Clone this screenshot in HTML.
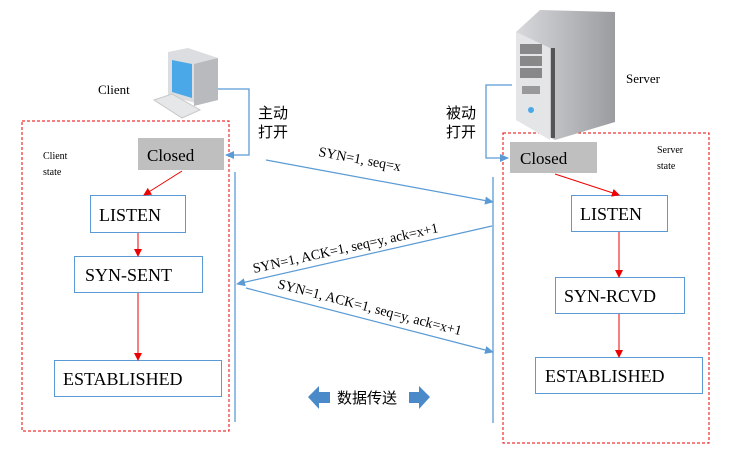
<!DOCTYPE html>
<html><head><meta charset="utf-8"><style>
body{margin:0;background:#fff;width:751px;height:459px;overflow:hidden}
text{font-family:"Liberation Serif","Noto Serif CJK SC",serif}
.cj{font-family:"Liberation Sans","Noto Sans CJK SC",sans-serif}
</style></head><body>
<svg width="751" height="459" xmlns="http://www.w3.org/2000/svg">
<defs>
<marker id="r" markerWidth="8" markerHeight="8" refX="7" refY="4" orient="auto" markerUnits="userSpaceOnUse"><path d="M0,0L8,4L0,8z" fill="#e00"/></marker>
<marker id="b" markerWidth="9" markerHeight="8" refX="8" refY="4" orient="auto" markerUnits="userSpaceOnUse"><path d="M0,0L9,4L0,8z" fill="#5b9bd5"/></marker>
<linearGradient id="sg" x1="0" x2="1"><stop offset="0" stop-color="#d8d9dc"/><stop offset="1" stop-color="#9a9ca0"/></linearGradient>
</defs>
<rect x="22" y="121" width="207" height="310" fill="none" stroke="#e00" stroke-dasharray="3,2"/>
<rect x="503" y="133" width="206" height="310" fill="none" stroke="#e00" stroke-dasharray="3,2"/>
<line x1="235" y1="172" x2="235" y2="422" stroke="#5b9bd5" stroke-width="1.3"/>
<line x1="493" y1="177" x2="493" y2="423" stroke="#5b9bd5" stroke-width="1.3"/>
<!-- computer icon -->
<path d="M168,52 L188,48 L218,58 L218,100 L200,104 L168,96z" fill="#dcdde0"/>
<path d="M172,60 L192,64 L192,98 L172,92z" fill="#4aa8e8"/>
<path d="M194,64 L218,58 L218,100 L194,106z" fill="#b8babe"/>
<path d="M154,100 L172,94 L200,110 L182,118z" fill="#e6e7e9" stroke="#c8c8c8"/>
<!-- server icon -->
<path d="M516,32 L540,10 L615,12 L615,122 L555,140 L516,120z" fill="url(#sg)"/>
<path d="M516,32 L550,48 L550,140 L516,120z" fill="#e4e5e7"/>
<rect x="520" y="44" width="22" height="10" fill="#888"/><rect x="520" y="56" width="22" height="10" fill="#888"/><rect x="520" y="68" width="22" height="10" fill="#888"/>
<rect x="522" y="86" width="18" height="8" fill="#999"/>
<circle cx="531" cy="110" r="3" fill="#4aa8e8"/>
<rect x="551" y="48" width="4" height="90" fill="#555"/>
<polyline points="218,89 249,89 249,155 226,155" fill="none" stroke="#5b9bd5" stroke-width="1.3" marker-end="url(#b)"/>
<polyline points="512,85 486,85 486,158 508,158" fill="none" stroke="#5b9bd5" stroke-width="1.3" marker-end="url(#b)"/>
<rect x="138" y="138" width="86" height="32" fill="#bfbfbf"/>
<text x="147" y="161" font-size="17">Closed</text>
<rect x="90.5" y="195.5" width="95" height="37" fill="#fff" stroke="#5b9bd5"/>
<text x="99" y="221" font-size="18">LISTEN</text>
<rect x="74.5" y="256.5" width="128" height="36" fill="#fff" stroke="#5b9bd5"/>
<text x="85" y="281" font-size="18">SYN-SENT</text>
<rect x="54.5" y="360.5" width="167" height="36" fill="#fff" stroke="#5b9bd5"/>
<text x="63" y="385" font-size="18">ESTABLISHED</text>
<line x1="182" y1="171" x2="144" y2="195" stroke="#e00" marker-end="url(#r)"/>
<line x1="138" y1="233" x2="138" y2="256" stroke="#e00" marker-end="url(#r)"/>
<line x1="138" y1="293" x2="138" y2="360" stroke="#e00" marker-end="url(#r)"/>
<rect x="510" y="142" width="87" height="31" fill="#bfbfbf"/>
<text x="520" y="164" font-size="17">Closed</text>
<rect x="571.5" y="195.5" width="96" height="36" fill="#fff" stroke="#5b9bd5"/>
<text x="580" y="220" font-size="18">LISTEN</text>
<rect x="555.5" y="277.5" width="129" height="36" fill="#fff" stroke="#5b9bd5"/>
<text x="564" y="302" font-size="18">SYN-RCVD</text>
<rect x="535.5" y="357.5" width="167" height="36" fill="#fff" stroke="#5b9bd5"/>
<text x="545" y="382" font-size="18">ESTABLISHED</text>
<line x1="555" y1="174" x2="619" y2="195" stroke="#e00" marker-end="url(#r)"/>
<line x1="619" y1="232" x2="619" y2="277" stroke="#e00" marker-end="url(#r)"/>
<line x1="619" y1="314" x2="619" y2="357" stroke="#e00" marker-end="url(#r)"/>
<line x1="266" y1="160" x2="493" y2="202" stroke="#5b9bd5" stroke-width="1.2" marker-end="url(#b)"/>
<line x1="492" y1="226" x2="237" y2="284" stroke="#5b9bd5" stroke-width="1.2" marker-end="url(#b)"/>
<line x1="246" y1="288" x2="493" y2="352" stroke="#5b9bd5" stroke-width="1.2" marker-end="url(#b)"/>
<text x="318" y="156" font-size="14" transform="rotate(10.5 318 156)">SYN=1, seq=x</text>
<text x="254" y="273" font-size="14" transform="rotate(-12.5 254 273)">SYN=1, ACK=1, seq=y, ack=x+1</text>
<text x="277" y="288" font-size="14" transform="rotate(14.5 277 288)">SYN=1, ACK=1, seq=y, ack=x+1</text>
<path d="M308,397 L319,386 L319,392 L330,392 L330,403 L319,403 L319,409z" fill="#4a8ac9"/>
<path d="M430,397 L419,386 L419,392 L409,392 L409,403 L419,403 L419,409z" fill="#4a8ac9"/>
<text x="337" y="403" font-size="15" class="cj">数据传送</text>
<text x="98" y="94" font-size="13">Client</text>
<text x="626" y="83" font-size="13">Server</text>
<text x="258" y="118" font-size="15" class="cj">主动</text>
<text x="258" y="137" font-size="15" class="cj">打开</text>
<text x="446" y="118" font-size="15" class="cj">被动</text>
<text x="446" y="137" font-size="15" class="cj">打开</text>
<text x="43" y="159" font-size="10">Client</text>
<text x="43" y="175" font-size="10">state</text>
<text x="657" y="153" font-size="10">Server</text>
<text x="657" y="169" font-size="10">state</text>
</svg>
</body></html>
